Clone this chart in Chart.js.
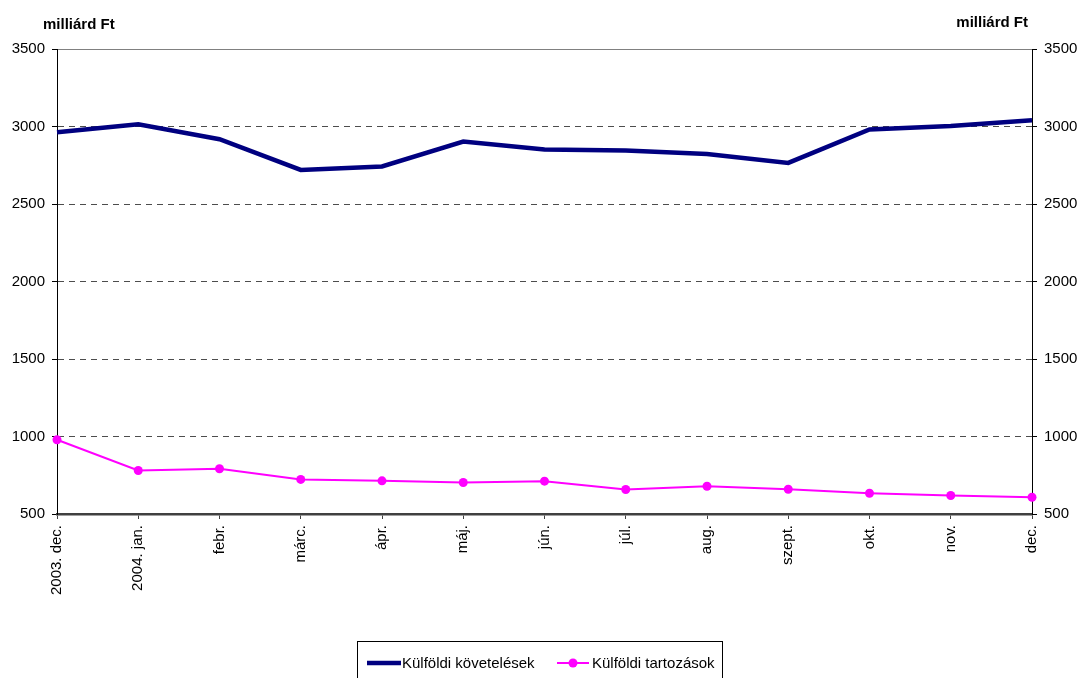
<!DOCTYPE html>
<html>
<head>
<meta charset="utf-8">
<script src="https://cdn.jsdelivr.net/npm/chart.js@4.4.1/dist/chart.umd.min.js"></script>
<style>
  html, body { margin: 0; padding: 0; background: #fff; }
  #wrap { position: relative; width: 1080px; height: 678px; overflow: hidden; background: #fff; }
  #wrap canvas { position: absolute; left: 0; top: 0; }
  #legend { position: absolute; left: 357px; top: 641px; width: 364px; height: 60px; border: 1px solid #000;
            font-family: "Liberation Sans", Arial, sans-serif; font-size: 15px; color: #000; }
  .item { position: absolute; top: 12px; line-height: 17px; white-space: nowrap; }
</style>
</head>
<body>
<div id="wrap">
  <canvas id="c" width="1080" height="678"></canvas>
  <div id="legend"></div>
</div>
<script>
// ---- data ----
const categories = ["2003. dec.", "2004. jan.", "febr.", "márc.", "ápr.", "máj.", "jún.", "júl.", "aug.", "szept.", "okt.", "nov.", "dec."];
const seriesNames = ["Külföldi követelések", "Külföldi tartozások"];
const claims = [2963, 3015, 2918, 2720, 2742, 2903, 2852, 2845, 2823, 2765, 2981, 3004, 3041];
const liabilities = [979, 781, 792, 723, 714, 703, 712, 658, 679, 660, 634, 619, 608];
const yTicks = [500, 1000, 1500, 2000, 2500, 3000, 3500];
const unitLabel = "milliárd Ft";

const FONT = '"Liberation Sans", Arial, sans-serif';
Chart.defaults.font.family = FONT;
Chart.defaults.font.size = 15;
Chart.defaults.color = '#000';

const titlesPlugin = {
  id: 'unitTitles',
  afterDraw(chart) {
    const ctx = chart.ctx;
    ctx.save();
    ctx.font = 'bold 15px ' + FONT;
    ctx.fillStyle = '#000';
    ctx.textBaseline = 'alphabetic';
    ctx.textAlign = 'left';
    ctx.fillText(unitLabel, 43, 29);
    ctx.textAlign = 'right';
    ctx.fillText(unitLabel, 1028, 27);
    ctx.restore();
  }
};

const gridColor = (c) => {
  const v = c.tick ? c.tick.value : null;
  if (v === 3500) return '#808080';
  if (v === 500) return 'rgba(0,0,0,0)';
  return '#4d4d4d';
};
const plainNumber = (v) => String(v);

new Chart(document.getElementById('c'), {
  type: 'line',
  data: {
    labels: categories,
    datasets: [
      {
        label: seriesNames[0],
        data: claims,
        borderColor: '#000080',
        backgroundColor: '#000080',
        borderWidth: 4.5,
        pointRadius: 0,
        tension: 0,
        clip: false,
        yAxisID: 'y'
      },
      {
        label: seriesNames[1],
        data: liabilities,
        borderColor: '#ff00ff',
        backgroundColor: '#ff00ff',
        borderWidth: 2,
        pointRadius: 4.5,
        pointBorderWidth: 0,
        pointBackgroundColor: '#ff00ff',
        tension: 0,
        clip: false,
        yAxisID: 'y'
      }
    ]
  },
  options: {
    responsive: false,
    animation: false,
    devicePixelRatio: 1,
    layout: { padding: { left: 0, right: 0, top: 49, bottom: 64 } },
    plugins: {
      legend: { display: false },
      tooltip: { enabled: false },
      title: { display: false }
    },
    scales: {
      x: {
        type: 'category',
        offset: false,
        afterFit(s) { s.height = 100; },
        ticks: { minRotation: 90, maxRotation: 90, autoSkip: false, padding: 6, font: { size: 15 } },
        grid: { drawOnChartArea: false, drawTicks: true, tickLength: 5, tickColor: '#404040', tickWidth: 1 },
        border: { display: true, color: '#404040', width: 2.5 }
      },
      y: {
        type: 'linear',
        position: 'left',
        min: 500,
        max: 3500,
        afterFit(s) { s.width = 57; },
        afterBuildTicks(s) { s.ticks = yTicks.map(v => ({ value: v })); },
        ticks: { padding: 7, font: { size: 15 }, callback: plainNumber },
        grid: { color: gridColor, lineWidth: 1, drawTicks: true, tickLength: 5, tickColor: '#000' },
        border: { display: true, color: '#000', width: 1, dash: (c) => (c.tick && c.tick.value === 3500 ? [] : [6, 5]) }
      },
      y2: {
        type: 'linear',
        position: 'right',
        min: 500,
        max: 3500,
        afterFit(s) { s.width = 48; },
        afterBuildTicks(s) { s.ticks = yTicks.map(v => ({ value: v })); },
        ticks: { padding: 7, font: { size: 15 }, callback: plainNumber },
        grid: { drawOnChartArea: false, drawTicks: true, tickLength: 5, tickColor: '#000' },
        border: { display: true, color: '#000', width: 1 }
      }
    }
  },
  plugins: [titlesPlugin]
});

// ---- legend (HTML) ----
const legend = document.getElementById('legend');
function addItem(left, sampleSvg, text, textLeft) {
  const s = document.createElement('div');
  s.className = 'item';
  s.style.left = left + 'px';
  s.innerHTML = sampleSvg;
  legend.appendChild(s);
  const t = document.createElement('div');
  t.className = 'item';
  t.style.left = textLeft + 'px';
  t.textContent = text;
  legend.appendChild(t);
}
addItem(9, '<svg width="34" height="17"><line x1="0" y1="9" x2="34" y2="9" stroke="#000080" stroke-width="4.5"/></svg>', seriesNames[0], 44);
addItem(199, '<svg width="32" height="17"><line x1="0" y1="9" x2="32" y2="9" stroke="#ff00ff" stroke-width="2"/><circle cx="16" cy="9" r="4.5" fill="#ff00ff"/></svg>', seriesNames[1], 234);
</script>
</body>
</html>
